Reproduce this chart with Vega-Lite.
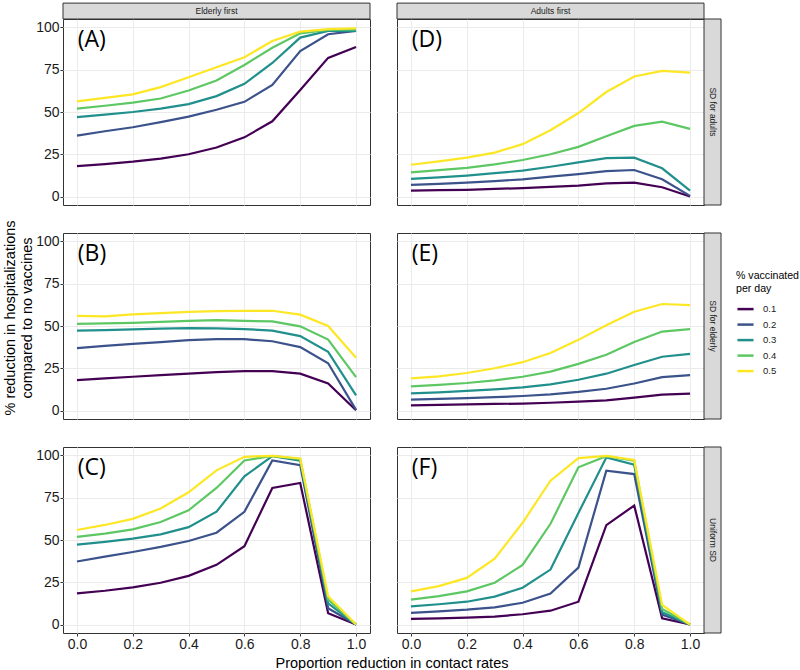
{
  "$schema": "https://vega.github.io/schema/vega-lite/v6.json",
  "padding": {"left": 2, "top": 2, "right": 0, "bottom": 0},
  "config": {
    "font": "Liberation Sans",
    "view": {"stroke": "#333333", "strokeWidth": 1},
    "axis": {"gridColor": "#ebebeb", "gridWidth": 1, "domain": false, "tickColor": "#333333", "tickSize": 3, "labelColor": "#1a1a1a", "labelFontSize": 14, "labelFont": "Liberation Sans"},
    "header": {"titleFontSize": 14.5, "titleFontWeight": "normal", "titleColor": "#000000", "titleFont": "Liberation Sans"},
    "legend": {"titleFontWeight": "normal", "titleFontSize": 10.6, "labelFontSize": 9.5, "titleColor": "#000000", "labelColor": "#1a1a1a", "titleFont": "Liberation Sans", "labelFont": "Liberation Sans"}
  },
  "data": {"values": [
    {"strategy":"Elderly first","sd":"SD for adults","panel":"(A)"},
    {"strategy":"Adults first","sd":"SD for adults","panel":"(D)"},
    {"strategy":"Elderly first","sd":"SD for elderly","panel":"(B)"},
    {"strategy":"Adults first","sd":"SD for elderly","panel":"(E)"},
    {"strategy":"Elderly first","sd":"Uniform SD","panel":"(C)"},
    {"strategy":"Adults first","sd":"Uniform SD","panel":"(F)"},
    {"strategy":"Elderly first","sd":"SD for adults","colstrip":"Elderly first"},
    {"strategy":"Adults first","sd":"SD for adults","colstrip":"Adults first"},
    {"strategy":"Adults first","sd":"SD for adults","rowstrip":"SD for adults"},
    {"strategy":"Adults first","sd":"SD for elderly","rowstrip":"SD for elderly"},
    {"strategy":"Adults first","sd":"Uniform SD","rowstrip":"Uniform SD"},

    {"strategy":"Elderly first","sd":"SD for adults","rate":"0.1","x":0,"y":18},
    {"strategy":"Elderly first","sd":"SD for adults","rate":"0.1","x":0.1,"y":19.2},
    {"strategy":"Elderly first","sd":"SD for adults","rate":"0.1","x":0.2,"y":20.6},
    {"strategy":"Elderly first","sd":"SD for adults","rate":"0.1","x":0.3,"y":22.4},
    {"strategy":"Elderly first","sd":"SD for adults","rate":"0.1","x":0.4,"y":25},
    {"strategy":"Elderly first","sd":"SD for adults","rate":"0.1","x":0.5,"y":29},
    {"strategy":"Elderly first","sd":"SD for adults","rate":"0.1","x":0.6,"y":35},
    {"strategy":"Elderly first","sd":"SD for adults","rate":"0.1","x":0.7,"y":44.5},
    {"strategy":"Elderly first","sd":"SD for adults","rate":"0.1","x":0.8,"y":63},
    {"strategy":"Elderly first","sd":"SD for adults","rate":"0.1","x":0.9,"y":82},
    {"strategy":"Elderly first","sd":"SD for adults","rate":"0.1","x":1.0,"y":88.5},
    {"strategy":"Elderly first","sd":"SD for adults","rate":"0.2","x":0,"y":36},
    {"strategy":"Elderly first","sd":"SD for adults","rate":"0.2","x":0.1,"y":38.6},
    {"strategy":"Elderly first","sd":"SD for adults","rate":"0.2","x":0.2,"y":41},
    {"strategy":"Elderly first","sd":"SD for adults","rate":"0.2","x":0.3,"y":44},
    {"strategy":"Elderly first","sd":"SD for adults","rate":"0.2","x":0.4,"y":47.3},
    {"strategy":"Elderly first","sd":"SD for adults","rate":"0.2","x":0.5,"y":51.3},
    {"strategy":"Elderly first","sd":"SD for adults","rate":"0.2","x":0.6,"y":56},
    {"strategy":"Elderly first","sd":"SD for adults","rate":"0.2","x":0.7,"y":66},
    {"strategy":"Elderly first","sd":"SD for adults","rate":"0.2","x":0.8,"y":86},
    {"strategy":"Elderly first","sd":"SD for adults","rate":"0.2","x":0.9,"y":96},
    {"strategy":"Elderly first","sd":"SD for adults","rate":"0.2","x":1.0,"y":98},
    {"strategy":"Elderly first","sd":"SD for adults","rate":"0.3","x":0,"y":47},
    {"strategy":"Elderly first","sd":"SD for adults","rate":"0.3","x":0.1,"y":48.5},
    {"strategy":"Elderly first","sd":"SD for adults","rate":"0.3","x":0.2,"y":50},
    {"strategy":"Elderly first","sd":"SD for adults","rate":"0.3","x":0.3,"y":52},
    {"strategy":"Elderly first","sd":"SD for adults","rate":"0.3","x":0.4,"y":54.7},
    {"strategy":"Elderly first","sd":"SD for adults","rate":"0.3","x":0.5,"y":59.4},
    {"strategy":"Elderly first","sd":"SD for adults","rate":"0.3","x":0.6,"y":66.7},
    {"strategy":"Elderly first","sd":"SD for adults","rate":"0.3","x":0.7,"y":79},
    {"strategy":"Elderly first","sd":"SD for adults","rate":"0.3","x":0.8,"y":94},
    {"strategy":"Elderly first","sd":"SD for adults","rate":"0.3","x":0.9,"y":98},
    {"strategy":"Elderly first","sd":"SD for adults","rate":"0.3","x":1.0,"y":98},
    {"strategy":"Elderly first","sd":"SD for adults","rate":"0.4","x":0,"y":52},
    {"strategy":"Elderly first","sd":"SD for adults","rate":"0.4","x":0.1,"y":53.7},
    {"strategy":"Elderly first","sd":"SD for adults","rate":"0.4","x":0.2,"y":55.5},
    {"strategy":"Elderly first","sd":"SD for adults","rate":"0.4","x":0.3,"y":58},
    {"strategy":"Elderly first","sd":"SD for adults","rate":"0.4","x":0.4,"y":62.7},
    {"strategy":"Elderly first","sd":"SD for adults","rate":"0.4","x":0.5,"y":68.6},
    {"strategy":"Elderly first","sd":"SD for adults","rate":"0.4","x":0.6,"y":77.8},
    {"strategy":"Elderly first","sd":"SD for adults","rate":"0.4","x":0.7,"y":88},
    {"strategy":"Elderly first","sd":"SD for adults","rate":"0.4","x":0.8,"y":96.5},
    {"strategy":"Elderly first","sd":"SD for adults","rate":"0.4","x":0.9,"y":98.6},
    {"strategy":"Elderly first","sd":"SD for adults","rate":"0.4","x":1.0,"y":98.8},
    {"strategy":"Elderly first","sd":"SD for adults","rate":"0.5","x":0,"y":56.3},
    {"strategy":"Elderly first","sd":"SD for adults","rate":"0.5","x":0.1,"y":58.3},
    {"strategy":"Elderly first","sd":"SD for adults","rate":"0.5","x":0.2,"y":60.4},
    {"strategy":"Elderly first","sd":"SD for adults","rate":"0.5","x":0.3,"y":64.7},
    {"strategy":"Elderly first","sd":"SD for adults","rate":"0.5","x":0.4,"y":70.6},
    {"strategy":"Elderly first","sd":"SD for adults","rate":"0.5","x":0.5,"y":76.5},
    {"strategy":"Elderly first","sd":"SD for adults","rate":"0.5","x":0.6,"y":82.4},
    {"strategy":"Elderly first","sd":"SD for adults","rate":"0.5","x":0.7,"y":92},
    {"strategy":"Elderly first","sd":"SD for adults","rate":"0.5","x":0.8,"y":97.5},
    {"strategy":"Elderly first","sd":"SD for adults","rate":"0.5","x":0.9,"y":99},
    {"strategy":"Elderly first","sd":"SD for adults","rate":"0.5","x":1.0,"y":99.4},

    {"strategy":"Adults first","sd":"SD for adults","rate":"0.1","x":0,"y":3.5},
    {"strategy":"Adults first","sd":"SD for adults","rate":"0.1","x":0.1,"y":3.8},
    {"strategy":"Adults first","sd":"SD for adults","rate":"0.1","x":0.2,"y":4},
    {"strategy":"Adults first","sd":"SD for adults","rate":"0.1","x":0.3,"y":4.5},
    {"strategy":"Adults first","sd":"SD for adults","rate":"0.1","x":0.4,"y":5},
    {"strategy":"Adults first","sd":"SD for adults","rate":"0.1","x":0.5,"y":5.7},
    {"strategy":"Adults first","sd":"SD for adults","rate":"0.1","x":0.6,"y":6.5},
    {"strategy":"Adults first","sd":"SD for adults","rate":"0.1","x":0.7,"y":7.8},
    {"strategy":"Adults first","sd":"SD for adults","rate":"0.1","x":0.8,"y":8.2},
    {"strategy":"Adults first","sd":"SD for adults","rate":"0.1","x":0.9,"y":5.5},
    {"strategy":"Adults first","sd":"SD for adults","rate":"0.1","x":1.0,"y":0},
    {"strategy":"Adults first","sd":"SD for adults","rate":"0.2","x":0,"y":6.9},
    {"strategy":"Adults first","sd":"SD for adults","rate":"0.2","x":0.1,"y":7.5},
    {"strategy":"Adults first","sd":"SD for adults","rate":"0.2","x":0.2,"y":8.2},
    {"strategy":"Adults first","sd":"SD for adults","rate":"0.2","x":0.3,"y":9.1},
    {"strategy":"Adults first","sd":"SD for adults","rate":"0.2","x":0.4,"y":10.2},
    {"strategy":"Adults first","sd":"SD for adults","rate":"0.2","x":0.5,"y":11.8},
    {"strategy":"Adults first","sd":"SD for adults","rate":"0.2","x":0.6,"y":13.3},
    {"strategy":"Adults first","sd":"SD for adults","rate":"0.2","x":0.7,"y":15},
    {"strategy":"Adults first","sd":"SD for adults","rate":"0.2","x":0.8,"y":15.7},
    {"strategy":"Adults first","sd":"SD for adults","rate":"0.2","x":0.9,"y":10.2},
    {"strategy":"Adults first","sd":"SD for adults","rate":"0.2","x":1.0,"y":0.4},
    {"strategy":"Adults first","sd":"SD for adults","rate":"0.3","x":0,"y":10.4},
    {"strategy":"Adults first","sd":"SD for adults","rate":"0.3","x":0.1,"y":11.3},
    {"strategy":"Adults first","sd":"SD for adults","rate":"0.3","x":0.2,"y":12.4},
    {"strategy":"Adults first","sd":"SD for adults","rate":"0.3","x":0.3,"y":13.8},
    {"strategy":"Adults first","sd":"SD for adults","rate":"0.3","x":0.4,"y":15.3},
    {"strategy":"Adults first","sd":"SD for adults","rate":"0.3","x":0.5,"y":17.6},
    {"strategy":"Adults first","sd":"SD for adults","rate":"0.3","x":0.6,"y":20.2},
    {"strategy":"Adults first","sd":"SD for adults","rate":"0.3","x":0.7,"y":22.7},
    {"strategy":"Adults first","sd":"SD for adults","rate":"0.3","x":0.8,"y":23},
    {"strategy":"Adults first","sd":"SD for adults","rate":"0.3","x":0.9,"y":16.7},
    {"strategy":"Adults first","sd":"SD for adults","rate":"0.3","x":1.0,"y":3.5},
    {"strategy":"Adults first","sd":"SD for adults","rate":"0.4","x":0,"y":14.3},
    {"strategy":"Adults first","sd":"SD for adults","rate":"0.4","x":0.1,"y":15.6},
    {"strategy":"Adults first","sd":"SD for adults","rate":"0.4","x":0.2,"y":17},
    {"strategy":"Adults first","sd":"SD for adults","rate":"0.4","x":0.3,"y":19},
    {"strategy":"Adults first","sd":"SD for adults","rate":"0.4","x":0.4,"y":21.6},
    {"strategy":"Adults first","sd":"SD for adults","rate":"0.4","x":0.5,"y":25},
    {"strategy":"Adults first","sd":"SD for adults","rate":"0.4","x":0.6,"y":29.4},
    {"strategy":"Adults first","sd":"SD for adults","rate":"0.4","x":0.7,"y":35.7},
    {"strategy":"Adults first","sd":"SD for adults","rate":"0.4","x":0.8,"y":41.8},
    {"strategy":"Adults first","sd":"SD for adults","rate":"0.4","x":0.9,"y":44.3},
    {"strategy":"Adults first","sd":"SD for adults","rate":"0.4","x":1.0,"y":40},
    {"strategy":"Adults first","sd":"SD for adults","rate":"0.5","x":0,"y":18.8},
    {"strategy":"Adults first","sd":"SD for adults","rate":"0.5","x":0.1,"y":20.8},
    {"strategy":"Adults first","sd":"SD for adults","rate":"0.5","x":0.2,"y":23},
    {"strategy":"Adults first","sd":"SD for adults","rate":"0.5","x":0.3,"y":26},
    {"strategy":"Adults first","sd":"SD for adults","rate":"0.5","x":0.4,"y":31},
    {"strategy":"Adults first","sd":"SD for adults","rate":"0.5","x":0.5,"y":39.2},
    {"strategy":"Adults first","sd":"SD for adults","rate":"0.5","x":0.6,"y":49.4},
    {"strategy":"Adults first","sd":"SD for adults","rate":"0.5","x":0.7,"y":61.8},
    {"strategy":"Adults first","sd":"SD for adults","rate":"0.5","x":0.8,"y":71},
    {"strategy":"Adults first","sd":"SD for adults","rate":"0.5","x":0.9,"y":74.3},
    {"strategy":"Adults first","sd":"SD for adults","rate":"0.5","x":1.0,"y":73.3},

    {"strategy":"Elderly first","sd":"SD for elderly","rate":"0.1","x":0,"y":18},
    {"strategy":"Elderly first","sd":"SD for elderly","rate":"0.1","x":0.1,"y":19},
    {"strategy":"Elderly first","sd":"SD for elderly","rate":"0.1","x":0.2,"y":20},
    {"strategy":"Elderly first","sd":"SD for elderly","rate":"0.1","x":0.3,"y":21},
    {"strategy":"Elderly first","sd":"SD for elderly","rate":"0.1","x":0.4,"y":21.8},
    {"strategy":"Elderly first","sd":"SD for elderly","rate":"0.1","x":0.5,"y":22.7},
    {"strategy":"Elderly first","sd":"SD for elderly","rate":"0.1","x":0.6,"y":23.3},
    {"strategy":"Elderly first","sd":"SD for elderly","rate":"0.1","x":0.7,"y":23.3},
    {"strategy":"Elderly first","sd":"SD for elderly","rate":"0.1","x":0.8,"y":21.8},
    {"strategy":"Elderly first","sd":"SD for elderly","rate":"0.1","x":0.9,"y":16},
    {"strategy":"Elderly first","sd":"SD for elderly","rate":"0.1","x":1.0,"y":0.2},
    {"strategy":"Elderly first","sd":"SD for elderly","rate":"0.2","x":0,"y":36.9},
    {"strategy":"Elderly first","sd":"SD for elderly","rate":"0.2","x":0.1,"y":38.2},
    {"strategy":"Elderly first","sd":"SD for elderly","rate":"0.2","x":0.2,"y":39.4},
    {"strategy":"Elderly first","sd":"SD for elderly","rate":"0.2","x":0.3,"y":40.5},
    {"strategy":"Elderly first","sd":"SD for elderly","rate":"0.2","x":0.4,"y":41.6},
    {"strategy":"Elderly first","sd":"SD for elderly","rate":"0.2","x":0.5,"y":42.2},
    {"strategy":"Elderly first","sd":"SD for elderly","rate":"0.2","x":0.6,"y":42.2},
    {"strategy":"Elderly first","sd":"SD for elderly","rate":"0.2","x":0.7,"y":41},
    {"strategy":"Elderly first","sd":"SD for elderly","rate":"0.2","x":0.8,"y":37.5},
    {"strategy":"Elderly first","sd":"SD for elderly","rate":"0.2","x":0.9,"y":28},
    {"strategy":"Elderly first","sd":"SD for elderly","rate":"0.2","x":1.0,"y":0.4},
    {"strategy":"Elderly first","sd":"SD for elderly","rate":"0.3","x":0,"y":47.3},
    {"strategy":"Elderly first","sd":"SD for elderly","rate":"0.3","x":0.1,"y":47.6},
    {"strategy":"Elderly first","sd":"SD for elderly","rate":"0.3","x":0.2,"y":48},
    {"strategy":"Elderly first","sd":"SD for elderly","rate":"0.3","x":0.3,"y":48.4},
    {"strategy":"Elderly first","sd":"SD for elderly","rate":"0.3","x":0.4,"y":48.8},
    {"strategy":"Elderly first","sd":"SD for elderly","rate":"0.3","x":0.5,"y":48.6},
    {"strategy":"Elderly first","sd":"SD for elderly","rate":"0.3","x":0.6,"y":48.2},
    {"strategy":"Elderly first","sd":"SD for elderly","rate":"0.3","x":0.7,"y":47.3},
    {"strategy":"Elderly first","sd":"SD for elderly","rate":"0.3","x":0.8,"y":44},
    {"strategy":"Elderly first","sd":"SD for elderly","rate":"0.3","x":0.9,"y":34.7},
    {"strategy":"Elderly first","sd":"SD for elderly","rate":"0.3","x":1.0,"y":9},
    {"strategy":"Elderly first","sd":"SD for elderly","rate":"0.4","x":0,"y":51.2},
    {"strategy":"Elderly first","sd":"SD for elderly","rate":"0.4","x":0.1,"y":51.5},
    {"strategy":"Elderly first","sd":"SD for elderly","rate":"0.4","x":0.2,"y":51.8},
    {"strategy":"Elderly first","sd":"SD for elderly","rate":"0.4","x":0.3,"y":52.4},
    {"strategy":"Elderly first","sd":"SD for elderly","rate":"0.4","x":0.4,"y":53},
    {"strategy":"Elderly first","sd":"SD for elderly","rate":"0.4","x":0.5,"y":53.5},
    {"strategy":"Elderly first","sd":"SD for elderly","rate":"0.4","x":0.6,"y":53},
    {"strategy":"Elderly first","sd":"SD for elderly","rate":"0.4","x":0.7,"y":52.7},
    {"strategy":"Elderly first","sd":"SD for elderly","rate":"0.4","x":0.8,"y":49.8},
    {"strategy":"Elderly first","sd":"SD for elderly","rate":"0.4","x":0.9,"y":42},
    {"strategy":"Elderly first","sd":"SD for elderly","rate":"0.4","x":1.0,"y":19.8},
    {"strategy":"Elderly first","sd":"SD for elderly","rate":"0.5","x":0,"y":56},
    {"strategy":"Elderly first","sd":"SD for elderly","rate":"0.5","x":0.1,"y":55.7},
    {"strategy":"Elderly first","sd":"SD for elderly","rate":"0.5","x":0.2,"y":56.9},
    {"strategy":"Elderly first","sd":"SD for elderly","rate":"0.5","x":0.3,"y":57.6},
    {"strategy":"Elderly first","sd":"SD for elderly","rate":"0.5","x":0.4,"y":58.4},
    {"strategy":"Elderly first","sd":"SD for elderly","rate":"0.5","x":0.5,"y":58.8},
    {"strategy":"Elderly first","sd":"SD for elderly","rate":"0.5","x":0.6,"y":59},
    {"strategy":"Elderly first","sd":"SD for elderly","rate":"0.5","x":0.7,"y":59},
    {"strategy":"Elderly first","sd":"SD for elderly","rate":"0.5","x":0.8,"y":56.7},
    {"strategy":"Elderly first","sd":"SD for elderly","rate":"0.5","x":0.9,"y":50},
    {"strategy":"Elderly first","sd":"SD for elderly","rate":"0.5","x":1.0,"y":31.2},

    {"strategy":"Adults first","sd":"SD for elderly","rate":"0.1","x":0,"y":3.1},
    {"strategy":"Adults first","sd":"SD for elderly","rate":"0.1","x":0.1,"y":3.4},
    {"strategy":"Adults first","sd":"SD for elderly","rate":"0.1","x":0.2,"y":3.7},
    {"strategy":"Adults first","sd":"SD for elderly","rate":"0.1","x":0.3,"y":3.9},
    {"strategy":"Adults first","sd":"SD for elderly","rate":"0.1","x":0.4,"y":4.1},
    {"strategy":"Adults first","sd":"SD for elderly","rate":"0.1","x":0.5,"y":4.6},
    {"strategy":"Adults first","sd":"SD for elderly","rate":"0.1","x":0.6,"y":5.3},
    {"strategy":"Adults first","sd":"SD for elderly","rate":"0.1","x":0.7,"y":6},
    {"strategy":"Adults first","sd":"SD for elderly","rate":"0.1","x":0.8,"y":7.6},
    {"strategy":"Adults first","sd":"SD for elderly","rate":"0.1","x":0.9,"y":9.4},
    {"strategy":"Adults first","sd":"SD for elderly","rate":"0.1","x":1.0,"y":10},
    {"strategy":"Adults first","sd":"SD for elderly","rate":"0.2","x":0,"y":6.5},
    {"strategy":"Adults first","sd":"SD for elderly","rate":"0.2","x":0.1,"y":6.9},
    {"strategy":"Adults first","sd":"SD for elderly","rate":"0.2","x":0.2,"y":7.3},
    {"strategy":"Adults first","sd":"SD for elderly","rate":"0.2","x":0.3,"y":7.9},
    {"strategy":"Adults first","sd":"SD for elderly","rate":"0.2","x":0.4,"y":8.6},
    {"strategy":"Adults first","sd":"SD for elderly","rate":"0.2","x":0.5,"y":9.6},
    {"strategy":"Adults first","sd":"SD for elderly","rate":"0.2","x":0.6,"y":11},
    {"strategy":"Adults first","sd":"SD for elderly","rate":"0.2","x":0.7,"y":12.9},
    {"strategy":"Adults first","sd":"SD for elderly","rate":"0.2","x":0.8,"y":16},
    {"strategy":"Adults first","sd":"SD for elderly","rate":"0.2","x":0.9,"y":19.8},
    {"strategy":"Adults first","sd":"SD for elderly","rate":"0.2","x":1.0,"y":21},
    {"strategy":"Adults first","sd":"SD for elderly","rate":"0.3","x":0,"y":10.2},
    {"strategy":"Adults first","sd":"SD for elderly","rate":"0.3","x":0.1,"y":10.8},
    {"strategy":"Adults first","sd":"SD for elderly","rate":"0.3","x":0.2,"y":11.6},
    {"strategy":"Adults first","sd":"SD for elderly","rate":"0.3","x":0.3,"y":12.5},
    {"strategy":"Adults first","sd":"SD for elderly","rate":"0.3","x":0.4,"y":13.7},
    {"strategy":"Adults first","sd":"SD for elderly","rate":"0.3","x":0.5,"y":15.5},
    {"strategy":"Adults first","sd":"SD for elderly","rate":"0.3","x":0.6,"y":18.2},
    {"strategy":"Adults first","sd":"SD for elderly","rate":"0.3","x":0.7,"y":21.8},
    {"strategy":"Adults first","sd":"SD for elderly","rate":"0.3","x":0.8,"y":26.9},
    {"strategy":"Adults first","sd":"SD for elderly","rate":"0.3","x":0.9,"y":31.8},
    {"strategy":"Adults first","sd":"SD for elderly","rate":"0.3","x":1.0,"y":33.5},
    {"strategy":"Adults first","sd":"SD for elderly","rate":"0.4","x":0,"y":14.3},
    {"strategy":"Adults first","sd":"SD for elderly","rate":"0.4","x":0.1,"y":15.2},
    {"strategy":"Adults first","sd":"SD for elderly","rate":"0.4","x":0.2,"y":16.3},
    {"strategy":"Adults first","sd":"SD for elderly","rate":"0.4","x":0.3,"y":17.8},
    {"strategy":"Adults first","sd":"SD for elderly","rate":"0.4","x":0.4,"y":20},
    {"strategy":"Adults first","sd":"SD for elderly","rate":"0.4","x":0.5,"y":23},
    {"strategy":"Adults first","sd":"SD for elderly","rate":"0.4","x":0.6,"y":27.6},
    {"strategy":"Adults first","sd":"SD for elderly","rate":"0.4","x":0.7,"y":33},
    {"strategy":"Adults first","sd":"SD for elderly","rate":"0.4","x":0.8,"y":40.6},
    {"strategy":"Adults first","sd":"SD for elderly","rate":"0.4","x":0.9,"y":46.7},
    {"strategy":"Adults first","sd":"SD for elderly","rate":"0.4","x":1.0,"y":48.2},
    {"strategy":"Adults first","sd":"SD for elderly","rate":"0.5","x":0,"y":19},
    {"strategy":"Adults first","sd":"SD for elderly","rate":"0.5","x":0.1,"y":20.2},
    {"strategy":"Adults first","sd":"SD for elderly","rate":"0.5","x":0.2,"y":22.2},
    {"strategy":"Adults first","sd":"SD for elderly","rate":"0.5","x":0.3,"y":25},
    {"strategy":"Adults first","sd":"SD for elderly","rate":"0.5","x":0.4,"y":28.6},
    {"strategy":"Adults first","sd":"SD for elderly","rate":"0.5","x":0.5,"y":34},
    {"strategy":"Adults first","sd":"SD for elderly","rate":"0.5","x":0.6,"y":41.8},
    {"strategy":"Adults first","sd":"SD for elderly","rate":"0.5","x":0.7,"y":50.4},
    {"strategy":"Adults first","sd":"SD for elderly","rate":"0.5","x":0.8,"y":58.4},
    {"strategy":"Adults first","sd":"SD for elderly","rate":"0.5","x":0.9,"y":63},
    {"strategy":"Adults first","sd":"SD for elderly","rate":"0.5","x":1.0,"y":62.4},

    {"strategy":"Elderly first","sd":"Uniform SD","rate":"0.1","x":0,"y":18.4},
    {"strategy":"Elderly first","sd":"Uniform SD","rate":"0.1","x":0.1,"y":20},
    {"strategy":"Elderly first","sd":"Uniform SD","rate":"0.1","x":0.2,"y":22},
    {"strategy":"Elderly first","sd":"Uniform SD","rate":"0.1","x":0.3,"y":24.7},
    {"strategy":"Elderly first","sd":"Uniform SD","rate":"0.1","x":0.4,"y":28.8},
    {"strategy":"Elderly first","sd":"Uniform SD","rate":"0.1","x":0.5,"y":35.3},
    {"strategy":"Elderly first","sd":"Uniform SD","rate":"0.1","x":0.6,"y":46.3},
    {"strategy":"Elderly first","sd":"Uniform SD","rate":"0.1","x":0.7,"y":80.8},
    {"strategy":"Elderly first","sd":"Uniform SD","rate":"0.1","x":0.8,"y":83.7},
    {"strategy":"Elderly first","sd":"Uniform SD","rate":"0.1","x":0.9,"y":6.7},
    {"strategy":"Elderly first","sd":"Uniform SD","rate":"0.1","x":1.0,"y":0},
    {"strategy":"Elderly first","sd":"Uniform SD","rate":"0.2","x":0,"y":37.3},
    {"strategy":"Elderly first","sd":"Uniform SD","rate":"0.2","x":0.1,"y":40.2},
    {"strategy":"Elderly first","sd":"Uniform SD","rate":"0.2","x":0.2,"y":42.9},
    {"strategy":"Elderly first","sd":"Uniform SD","rate":"0.2","x":0.3,"y":45.9},
    {"strategy":"Elderly first","sd":"Uniform SD","rate":"0.2","x":0.4,"y":49.4},
    {"strategy":"Elderly first","sd":"Uniform SD","rate":"0.2","x":0.5,"y":54.3},
    {"strategy":"Elderly first","sd":"Uniform SD","rate":"0.2","x":0.6,"y":66.7},
    {"strategy":"Elderly first","sd":"Uniform SD","rate":"0.2","x":0.7,"y":97},
    {"strategy":"Elderly first","sd":"Uniform SD","rate":"0.2","x":0.8,"y":94.3},
    {"strategy":"Elderly first","sd":"Uniform SD","rate":"0.2","x":0.9,"y":9.6},
    {"strategy":"Elderly first","sd":"Uniform SD","rate":"0.2","x":1.0,"y":0},
    {"strategy":"Elderly first","sd":"Uniform SD","rate":"0.3","x":0,"y":47.3},
    {"strategy":"Elderly first","sd":"Uniform SD","rate":"0.3","x":0.1,"y":48.9},
    {"strategy":"Elderly first","sd":"Uniform SD","rate":"0.3","x":0.2,"y":50.8},
    {"strategy":"Elderly first","sd":"Uniform SD","rate":"0.3","x":0.3,"y":53.3},
    {"strategy":"Elderly first","sd":"Uniform SD","rate":"0.3","x":0.4,"y":57.6},
    {"strategy":"Elderly first","sd":"Uniform SD","rate":"0.3","x":0.5,"y":66.7},
    {"strategy":"Elderly first","sd":"Uniform SD","rate":"0.3","x":0.6,"y":87.6},
    {"strategy":"Elderly first","sd":"Uniform SD","rate":"0.3","x":0.7,"y":99.6},
    {"strategy":"Elderly first","sd":"Uniform SD","rate":"0.3","x":0.8,"y":96.9},
    {"strategy":"Elderly first","sd":"Uniform SD","rate":"0.3","x":0.9,"y":12.5},
    {"strategy":"Elderly first","sd":"Uniform SD","rate":"0.3","x":1.0,"y":0},
    {"strategy":"Elderly first","sd":"Uniform SD","rate":"0.4","x":0,"y":51.8},
    {"strategy":"Elderly first","sd":"Uniform SD","rate":"0.4","x":0.1,"y":53.8},
    {"strategy":"Elderly first","sd":"Uniform SD","rate":"0.4","x":0.2,"y":56.3},
    {"strategy":"Elderly first","sd":"Uniform SD","rate":"0.4","x":0.3,"y":60.6},
    {"strategy":"Elderly first","sd":"Uniform SD","rate":"0.4","x":0.4,"y":67.6},
    {"strategy":"Elderly first","sd":"Uniform SD","rate":"0.4","x":0.5,"y":80.8},
    {"strategy":"Elderly first","sd":"Uniform SD","rate":"0.4","x":0.6,"y":97},
    {"strategy":"Elderly first","sd":"Uniform SD","rate":"0.4","x":0.7,"y":99.8},
    {"strategy":"Elderly first","sd":"Uniform SD","rate":"0.4","x":0.8,"y":97.8},
    {"strategy":"Elderly first","sd":"Uniform SD","rate":"0.4","x":0.9,"y":14.7},
    {"strategy":"Elderly first","sd":"Uniform SD","rate":"0.4","x":1.0,"y":0},
    {"strategy":"Elderly first","sd":"Uniform SD","rate":"0.5","x":0,"y":55.9},
    {"strategy":"Elderly first","sd":"Uniform SD","rate":"0.5","x":0.1,"y":58.9},
    {"strategy":"Elderly first","sd":"Uniform SD","rate":"0.5","x":0.2,"y":62.5},
    {"strategy":"Elderly first","sd":"Uniform SD","rate":"0.5","x":0.3,"y":68.6},
    {"strategy":"Elderly first","sd":"Uniform SD","rate":"0.5","x":0.4,"y":78.2},
    {"strategy":"Elderly first","sd":"Uniform SD","rate":"0.5","x":0.5,"y":91.2},
    {"strategy":"Elderly first","sd":"Uniform SD","rate":"0.5","x":0.6,"y":99.2},
    {"strategy":"Elderly first","sd":"Uniform SD","rate":"0.5","x":0.7,"y":99.8},
    {"strategy":"Elderly first","sd":"Uniform SD","rate":"0.5","x":0.8,"y":98.2},
    {"strategy":"Elderly first","sd":"Uniform SD","rate":"0.5","x":0.9,"y":16.7},
    {"strategy":"Elderly first","sd":"Uniform SD","rate":"0.5","x":1.0,"y":0},

    {"strategy":"Adults first","sd":"Uniform SD","rate":"0.1","x":0,"y":3.3},
    {"strategy":"Adults first","sd":"Uniform SD","rate":"0.1","x":0.1,"y":3.7},
    {"strategy":"Adults first","sd":"Uniform SD","rate":"0.1","x":0.2,"y":4.1},
    {"strategy":"Adults first","sd":"Uniform SD","rate":"0.1","x":0.3,"y":4.7},
    {"strategy":"Adults first","sd":"Uniform SD","rate":"0.1","x":0.4,"y":6.1},
    {"strategy":"Adults first","sd":"Uniform SD","rate":"0.1","x":0.5,"y":8.2},
    {"strategy":"Adults first","sd":"Uniform SD","rate":"0.1","x":0.6,"y":13.5},
    {"strategy":"Adults first","sd":"Uniform SD","rate":"0.1","x":0.7,"y":58.8},
    {"strategy":"Adults first","sd":"Uniform SD","rate":"0.1","x":0.8,"y":70.4},
    {"strategy":"Adults first","sd":"Uniform SD","rate":"0.1","x":0.9,"y":3.7},
    {"strategy":"Adults first","sd":"Uniform SD","rate":"0.1","x":1.0,"y":0},
    {"strategy":"Adults first","sd":"Uniform SD","rate":"0.2","x":0,"y":6.9},
    {"strategy":"Adults first","sd":"Uniform SD","rate":"0.2","x":0.1,"y":7.8},
    {"strategy":"Adults first","sd":"Uniform SD","rate":"0.2","x":0.2,"y":8.8},
    {"strategy":"Adults first","sd":"Uniform SD","rate":"0.2","x":0.3,"y":10.2},
    {"strategy":"Adults first","sd":"Uniform SD","rate":"0.2","x":0.4,"y":12.9},
    {"strategy":"Adults first","sd":"Uniform SD","rate":"0.2","x":0.5,"y":18.4},
    {"strategy":"Adults first","sd":"Uniform SD","rate":"0.2","x":0.6,"y":33.7},
    {"strategy":"Adults first","sd":"Uniform SD","rate":"0.2","x":0.7,"y":91},
    {"strategy":"Adults first","sd":"Uniform SD","rate":"0.2","x":0.8,"y":89},
    {"strategy":"Adults first","sd":"Uniform SD","rate":"0.2","x":0.9,"y":5.9},
    {"strategy":"Adults first","sd":"Uniform SD","rate":"0.2","x":1.0,"y":0},
    {"strategy":"Adults first","sd":"Uniform SD","rate":"0.3","x":0,"y":10.8},
    {"strategy":"Adults first","sd":"Uniform SD","rate":"0.3","x":0.1,"y":12},
    {"strategy":"Adults first","sd":"Uniform SD","rate":"0.3","x":0.2,"y":13.5},
    {"strategy":"Adults first","sd":"Uniform SD","rate":"0.3","x":0.3,"y":16.5},
    {"strategy":"Adults first","sd":"Uniform SD","rate":"0.3","x":0.4,"y":21.8},
    {"strategy":"Adults first","sd":"Uniform SD","rate":"0.3","x":0.5,"y":32.5},
    {"strategy":"Adults first","sd":"Uniform SD","rate":"0.3","x":0.6,"y":66},
    {"strategy":"Adults first","sd":"Uniform SD","rate":"0.3","x":0.7,"y":98.8},
    {"strategy":"Adults first","sd":"Uniform SD","rate":"0.3","x":0.8,"y":94.5},
    {"strategy":"Adults first","sd":"Uniform SD","rate":"0.3","x":0.9,"y":7.3},
    {"strategy":"Adults first","sd":"Uniform SD","rate":"0.3","x":1.0,"y":0},
    {"strategy":"Adults first","sd":"Uniform SD","rate":"0.4","x":0,"y":14.7},
    {"strategy":"Adults first","sd":"Uniform SD","rate":"0.4","x":0.1,"y":16.8},
    {"strategy":"Adults first","sd":"Uniform SD","rate":"0.4","x":0.2,"y":19.6},
    {"strategy":"Adults first","sd":"Uniform SD","rate":"0.4","x":0.3,"y":24.7},
    {"strategy":"Adults first","sd":"Uniform SD","rate":"0.4","x":0.4,"y":35.3},
    {"strategy":"Adults first","sd":"Uniform SD","rate":"0.4","x":0.5,"y":59.6},
    {"strategy":"Adults first","sd":"Uniform SD","rate":"0.4","x":0.6,"y":93},
    {"strategy":"Adults first","sd":"Uniform SD","rate":"0.4","x":0.7,"y":99.6},
    {"strategy":"Adults first","sd":"Uniform SD","rate":"0.4","x":0.8,"y":96.9},
    {"strategy":"Adults first","sd":"Uniform SD","rate":"0.4","x":0.9,"y":9.2},
    {"strategy":"Adults first","sd":"Uniform SD","rate":"0.4","x":1.0,"y":0},
    {"strategy":"Adults first","sd":"Uniform SD","rate":"0.5","x":0,"y":19.6},
    {"strategy":"Adults first","sd":"Uniform SD","rate":"0.5","x":0.1,"y":22.7},
    {"strategy":"Adults first","sd":"Uniform SD","rate":"0.5","x":0.2,"y":27.6},
    {"strategy":"Adults first","sd":"Uniform SD","rate":"0.5","x":0.3,"y":39},
    {"strategy":"Adults first","sd":"Uniform SD","rate":"0.5","x":0.4,"y":60.2},
    {"strategy":"Adults first","sd":"Uniform SD","rate":"0.5","x":0.5,"y":85.1},
    {"strategy":"Adults first","sd":"Uniform SD","rate":"0.5","x":0.6,"y":98.4},
    {"strategy":"Adults first","sd":"Uniform SD","rate":"0.5","x":0.7,"y":99.8},
    {"strategy":"Adults first","sd":"Uniform SD","rate":"0.5","x":0.8,"y":97.3},
    {"strategy":"Adults first","sd":"Uniform SD","rate":"0.5","x":0.9,"y":11.6},
    {"strategy":"Adults first","sd":"Uniform SD","rate":"0.5","x":1.0,"y":0}
  ]},
  "facet": {
    "column": {"field": "strategy", "type": "nominal", "sort": ["Elderly first", "Adults first"], "header": {"labels": false, "title": "Proportion reduction in contact rates", "titleOrient": "bottom", "titlePadding": -4}},
    "row": {"field": "sd", "type": "nominal", "sort": ["SD for adults", "SD for elderly", "Uniform SD"], "header": {"labels": false, "title": ["% reduction in hospitalizations", "compared to no vaccines"], "titleOrient": "left", "titlePadding": -10, "titleLineHeight": 17}}
  },
  "spacing": {"row": 28, "column": 27},
  "bounds": "flush",
  "spec": {
    "width": 307,
    "height": 186,
    "layer": [
      {
        "transform": [{"filter": "isValid(datum.rate)"}],
        "mark": {"type": "line", "strokeWidth": 2.2},
        "encoding": {
          "x": {"field": "x", "type": "quantitative", "scale": {"domain": [-0.05, 1.05], "nice": false, "zero": false},
                "axis": {"values": [0, 0.2, 0.4, 0.6, 0.8, 1.0], "format": ".1f", "title": null, "labelPadding": 1}},
          "y": {"field": "y", "type": "quantitative", "scale": {"domain": [-5, 105], "nice": false, "zero": false},
                "axis": {"values": [0, 25, 50, 75, 100], "title": null, "labelPadding": 1}},
          "color": {"field": "rate", "type": "nominal", "scale": {"domain": ["0.1", "0.2", "0.3", "0.4", "0.5"], "range": ["#440154", "#3B528B", "#21908C", "#5DC863", "#FDE725"]},
                    "legend": {"title": ["% vaccinated", " per day"], "orient": "none", "legendX": 673, "legendY": 252, "symbolType": "stroke", "symbolStrokeWidth": 2.5, "symbolSize": 260, "rowPadding": 0.5, "labelOffset": 8, "titlePadding": 5, "titleLineHeight": 13}}
        }
      },
      {
        "transform": [{"filter": "isValid(datum.panel)"}],
        "mark": {"type": "text", "align": "left", "baseline": "middle", "fontSize": 23, "font": "Open Sans", "color": "#000000"},
        "encoding": {
          "x": {"datum": 0.003, "type": "quantitative", "scale": {"domain": [-0.05, 1.05], "nice": false, "zero": false}},
          "y": {"datum": 92.5, "type": "quantitative", "scale": {"domain": [-5, 105], "nice": false, "zero": false}},
          "text": {"field": "panel"}
        }
      },
      {
        "transform": [{"filter": "isValid(datum.colstrip)"}],
        "mark": {"type": "rect", "fill": "#d9d9d9", "stroke": "#333333", "strokeWidth": 1, "clip": false},
        "encoding": {
          "x": {"datum": -0.05, "type": "quantitative", "scale": {"domain": [-0.05, 1.05], "nice": false, "zero": false}},
          "x2": {"datum": 1.05},
          "y": {"datum": 105, "type": "quantitative", "scale": {"domain": [-5, 105], "nice": false, "zero": false}},
          "y2": {"datum": 114.4}
        }
      },
      {
        "transform": [{"filter": "isValid(datum.colstrip)"}],
        "mark": {"type": "text", "align": "center", "baseline": "middle", "fontSize": 8.5, "color": "#1a1a1a", "clip": false},
        "encoding": {
          "x": {"datum": 0.5, "type": "quantitative", "scale": {"domain": [-0.05, 1.05], "nice": false, "zero": false}},
          "y": {"datum": 109.7, "type": "quantitative", "scale": {"domain": [-5, 105], "nice": false, "zero": false}},
          "text": {"field": "colstrip"}
        }
      },
      {
        "transform": [{"filter": "isValid(datum.rowstrip)"}],
        "mark": {"type": "rect", "fill": "#d9d9d9", "stroke": "#333333", "strokeWidth": 1, "clip": false},
        "encoding": {
          "x": {"datum": 1.05, "type": "quantitative", "scale": {"domain": [-0.05, 1.05], "nice": false, "zero": false}},
          "x2": {"datum": 1.111},
          "y": {"datum": -5, "type": "quantitative", "scale": {"domain": [-5, 105], "nice": false, "zero": false}},
          "y2": {"datum": 105}
        }
      },
      {
        "transform": [{"filter": "isValid(datum.rowstrip)"}],
        "mark": {"type": "text", "align": "center", "baseline": "middle", "fontSize": 8.5, "angle": 90, "color": "#1a1a1a", "clip": false},
        "encoding": {
          "x": {"datum": 1.0805, "type": "quantitative", "scale": {"domain": [-0.05, 1.05], "nice": false, "zero": false}},
          "y": {"datum": 50, "type": "quantitative", "scale": {"domain": [-5, 105], "nice": false, "zero": false}},
          "text": {"field": "rowstrip"}
        }
      }
    ]
  }
}
